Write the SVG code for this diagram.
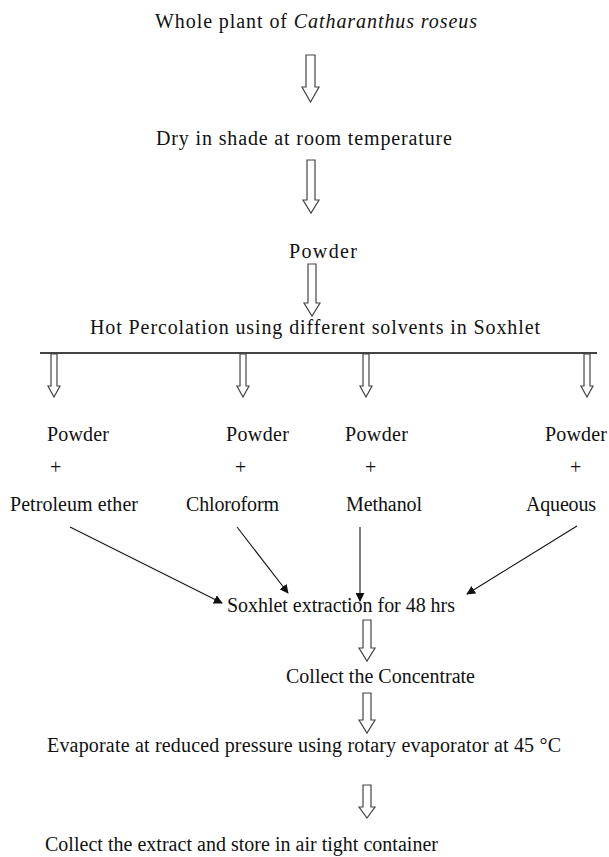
<svg xmlns="http://www.w3.org/2000/svg" width="609" height="857" viewBox="0 0 609 857">
<style>
text{font-family:'Liberation Serif','Times New Roman',serif;font-size:20px;fill:#111}
.ha{fill:#fff;stroke:#444;stroke-width:1.2;stroke-linejoin:miter}
.ln{stroke:#111;stroke-width:1.1;fill:none;marker-end:url(#ah)}
</style>
<defs>
<marker id="ah" viewBox="0 0 10 10" refX="9" refY="5" markerWidth="9" markerHeight="9" markerUnits="userSpaceOnUse" orient="auto">
<path d="M0,0 L10,5 L0,10 z" fill="#111"/>
</marker>
</defs>
<g id="n1"><text x="155" y="28" textLength="322" lengthAdjust="spacing">Whole plant of <tspan font-style="italic">Catharanthus roseus</tspan></text></g>
<g id="n2"><text x="156" y="145" textLength="296" lengthAdjust="spacing">Dry in shade at room temperature</text></g>
<g id="n3"><text x="289" y="258" textLength="68" lengthAdjust="spacing">Powder</text></g>
<g id="n4"><text x="90" y="334" textLength="450" lengthAdjust="spacing">Hot Percolation using different solvents in Soxhlet</text></g>
<g id="n5"><text x="47" y="441" textLength="62" lengthAdjust="spacing">Powder</text><text x="50" y="474">+</text><text x="10" y="511" textLength="128" lengthAdjust="spacing">Petroleum ether</text></g>
<g id="n6"><text x="226" y="441" textLength="63" lengthAdjust="spacing">Powder</text><text x="235" y="474">+</text><text x="186" y="511" textLength="93" lengthAdjust="spacing">Chloroform</text></g>
<g id="n7"><text x="345" y="441" textLength="63" lengthAdjust="spacing">Powder</text><text x="365" y="474">+</text><text x="346" y="511" textLength="76" lengthAdjust="spacing">Methanol</text></g>
<g id="n8"><text x="545" y="441" textLength="62" lengthAdjust="spacing">Powder</text><text x="570" y="474">+</text><text x="526" y="511" textLength="70" lengthAdjust="spacing">Aqueous</text></g>
<g id="n9"><text x="227" y="612" textLength="228" lengthAdjust="spacing">Soxhlet extraction for 48 hrs</text></g>
<g id="n10"><text x="286" y="683" textLength="189" lengthAdjust="spacing">Collect the Concentrate</text></g>
<g id="n11"><text x="47" y="752" textLength="514" lengthAdjust="spacing">Evaporate at reduced pressure using rotary evaporator at 45 °C</text></g>
<g id="n12"><text x="45" y="851" textLength="393" lengthAdjust="spacing">Collect the extract and store in air tight container</text></g>
<g id="connectors">
<polygon class="ha" points="306,55 315,55 315,87 319,87 310.5,102 302,87 306,87"/>
<polygon class="ha" points="307,160 315,160 315,200 319,200 311,213 303,200 307,200"/>
<polygon class="ha" points="308,264 316,264 316,303 320,303 312,316 304,303 308,303"/>
<line x1="40" y1="353" x2="597" y2="353" stroke="#444" stroke-width="2"/>
<polygon class="ha" points="51,354 57,354 57,386 60,386 54,397 48,386 51,386"/>
<polygon class="ha" points="240,354 246,354 246,386 249,386 243,397 237,386 240,386"/>
<polygon class="ha" points="363,354 369,354 369,386 372,386 366,397 360,386 363,386"/>
<polygon class="ha" points="584,354 590,354 590,386 593,386 587,397 581,386 584,386"/>
<line class="ln" x1="70" y1="527" x2="222" y2="603"/>
<line class="ln" x1="237" y1="527" x2="288" y2="593"/>
<line class="ln" x1="360" y1="527" x2="360" y2="601"/>
<line class="ln" x1="577" y1="526" x2="467" y2="594"/>
<polygon class="ha" points="363,620 371,620 371,648 375,648 367,661 359,648 363,648"/>
<polygon class="ha" points="363,693 371,693 371,720 375,720 367,733 359,720 363,720"/>
<polygon class="ha" points="363,785 371,785 371,807 375,807 367,818 359,807 363,807"/>
</g>
</svg>
